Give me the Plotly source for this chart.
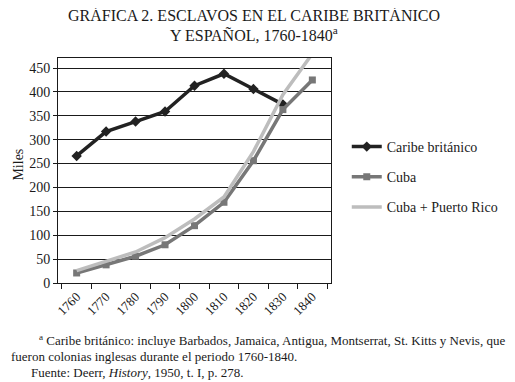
import plotly.graph_objects as go

# Datos (miles de esclavos)
YEARS = ["1760", "1770", "1780", "1790", "1800", "1810", "1820", "1830", "1840"]
CARIBE_BRITANICO = [266, 317, 338, 359, 413, 438, 406, 374, None]
CUBA = [21, 38, 56, 80, 120, 169, 256, 363, 425]
CUBA_PUERTO_RICO = [26, 45, 65, 95, 134, 180, 275, 394, 480]
Y_TICKS = [0, 50, 100, 150, 200, 250, 300, 350, 400, 450]

FONT = "Liberation Serif"
INK = "#1a1a1a"

# la página añade 8 px de margen; el área de trazado va de (58,58) a (335,283)
L, T, PW, PH = 50, 50, 277, 225


def xp(px):
    return (px - 8 - L) / PW


def yp(py):
    return 1 - (py - 8 - T) / PH


fig = go.Figure()
fig.add_trace(go.Scatter(
    x=YEARS, y=CARIBE_BRITANICO, name="Caribe británico", legendgroup="a",
    mode="lines+markers",
    line=dict(color="#222222", width=3.5),
    marker=dict(symbol="diamond", size=8, color="#222222"),
))
fig.add_trace(go.Scatter(
    x=YEARS, y=CUBA, name="Cuba", legendgroup="b",
    mode="lines+markers",
    line=dict(color="#777777", width=3.5),
    marker=dict(symbol="square", size=7, color="#777777"),
))
fig.add_trace(go.Scatter(
    x=YEARS, y=CUBA_PUERTO_RICO, name="Cuba + Puerto Rico", legendgroup="c",
    mode="lines",
    line=dict(color="#bdbdbd", width=3.5),
))

fig.update_layout(
    width=507, height=374,
    paper_bgcolor="white", plot_bgcolor="white",
    margin=dict(l=L, r=507 - L - PW, t=T, b=374 - T - PH),
    font=dict(family=FONT, size=13, color=INK),
    showlegend=True,
    legend=dict(
        x=xp(351), y=yp(131), xanchor="left", yanchor="top",
        font=dict(family=FONT, size=14, color=INK),
        bgcolor="rgba(0,0,0,0)", tracegroupgap=9,
        itemwidth=30,
    ),
    xaxis=dict(
        type="category", tickson="boundaries",
        ticks="outside", ticklen=5, tickcolor=INK,
        tickangle=-45, tickfont=dict(family=FONT, size=13),
        showgrid=False, showline=True, linecolor=INK, linewidth=1,
        mirror=True,
    ),
    yaxis=dict(
        range=[0, 471], tickvals=Y_TICKS,
        ticks="outside", ticklen=4, tickcolor=INK,
        tickfont=dict(family=FONT, size=14),
        showgrid=True, gridcolor=INK, gridwidth=1,
        showline=True, linecolor=INK, linewidth=1, mirror=True,
        zeroline=False,
    ),
)

title_font = dict(family=FONT, size=16, color=INK)
fig.add_annotation(
    text="GRÁFICA 2. ESCLAVOS EN EL CARIBE BRITÁNICO",
    xref="paper", yref="paper", x=xp(257), y=yp(15), xanchor="center", yanchor="middle",
    showarrow=False, font=title_font,
)
fig.add_annotation(
    text="Y ESPAÑOL, 1760-1840<sup>a</sup>",
    xref="paper", yref="paper", x=xp(257), y=yp(34), xanchor="center", yanchor="middle",
    showarrow=False, font=title_font,
)
fig.add_annotation(
    text="Miles",
    xref="paper", yref="paper", x=xp(17), y=yp(165), xanchor="center", yanchor="middle",
    textangle=-90, showarrow=False, font=dict(family=FONT, size=14, color=INK),
)

note_font = dict(family=FONT, size=13, color=INK)
fig.add_annotation(
    text="<sup>a</sup> Caribe británico: incluye Barbados, Jamaica, Antigua, Montserrat, St. Kitts y Nevis, que",
    xref="paper", yref="paper", x=xp(37), y=yp(340), xanchor="left", yanchor="middle",
    showarrow=False, font=note_font,
)
fig.add_annotation(
    text="fueron colonias inglesas durante el periodo 1760-1840.",
    xref="paper", yref="paper", x=xp(8), y=yp(356), xanchor="left", yanchor="middle",
    showarrow=False, font=note_font,
)
fig.add_annotation(
    text="Fuente: Deerr, <i>History</i>, 1950, t. I, p. 278.",
    xref="paper", yref="paper", x=xp(29), y=yp(372), xanchor="left", yanchor="middle",
    showarrow=False, font=note_font,
)

fig.write_html("out.html")
